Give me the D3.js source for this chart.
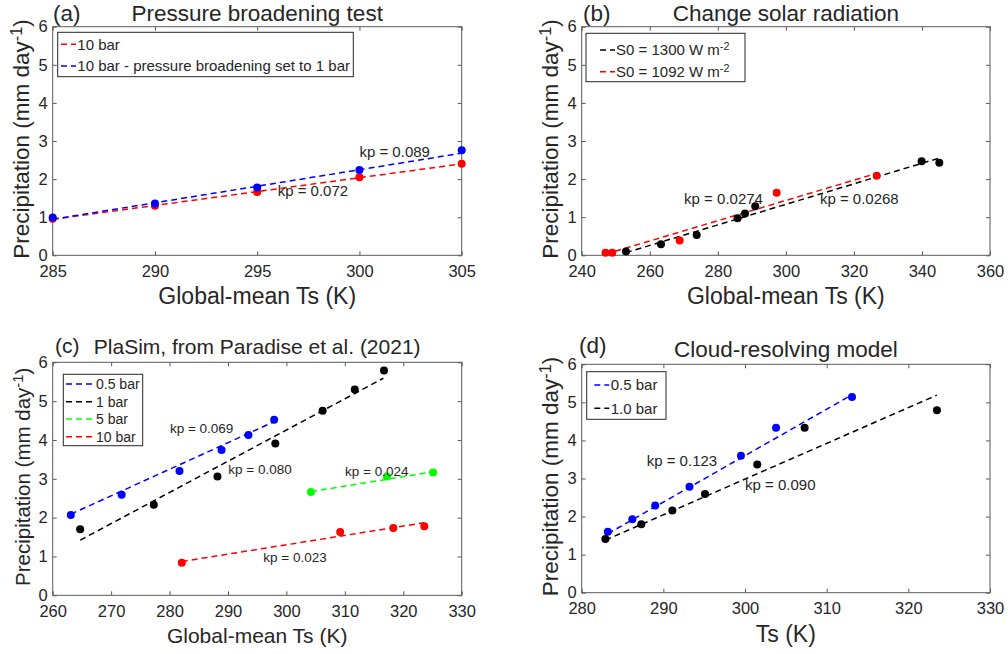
<!DOCTYPE html>
<html>
<head>
<meta charset="utf-8">
<script src="https://cdn.jsdelivr.net/npm/d3@7"></script>
<style>
  body { margin: 0; background: #fff; }
  text { font-family: 'Liberation Sans', Arial, Helvetica, sans-serif; fill: #262626; }
</style>
</head>
<body>
<script>
// ---- panel (a) pressure broadening test
const a_temps = [285, 290, 295, 300, 305];
const a_red = [0.96, 1.30, 1.66, 2.05, 2.40];
const a_blue = [0.99, 1.36, 1.78, 2.24, 2.76];
const a_fit_t = [285, 305];
const a_red_fit = [0.945, 2.40];
const a_blue_fit = [0.945, 2.68];

// ---- panel (b) change solar radiation
const b_black_t = [253.0, 263.3, 273.8, 285.8, 288.0, 291.0, 339.9, 345.1];
const b_black_p = [0.10, 0.29, 0.53, 0.97, 1.10, 1.29, 2.47, 2.43];
const b_red_t = [247.0, 249.0, 268.8, 297.3, 326.7];
const b_red_p = [0.07, 0.07, 0.39, 1.64, 2.09];
const b_black_fit_t = [253, 345];
const b_black_fit_p = [0.07, 2.55];
const b_red_fit_t = [247, 326.7];
const b_red_fit_p = [0.03, 2.15];

// ---- panel (c) PlaSim
const c_blue_t = [263.1, 271.8, 281.7, 288.9, 293.5, 297.9];
const c_blue_p = [2.07, 2.59, 3.20, 3.74, 4.13, 4.52];
const c_black_t = [264.7, 277.3, 288.2, 298.1, 306.2, 311.7, 316.7];
const c_black_p = [1.70, 2.33, 3.06, 3.91, 4.75, 5.30, 5.79];
const c_green_t = [304.2, 317.2, 325.1];
const c_green_p = [2.66, 3.06, 3.16];
const c_red_t = [282.1, 309.2, 318.3, 323.6];
const c_red_p = [0.84, 1.63, 1.73, 1.78];
const c_blue_fit_t = [263.1, 297.9];
const c_blue_fit_p = [2.09, 4.47];
const c_black_fit_t = [264.7, 316.6];
const c_black_fit_p = [1.42, 5.59];
const c_green_fit_t = [304.2, 325.1];
const c_green_fit_p = [2.67, 3.18];
const c_red_fit_t = [282.1, 323.6];
const c_red_fit_p = [0.87, 1.87];

// ---- panel (d) cloud-resolving model
const d_blue_t = [283.2, 286.2, 289.0, 293.2, 299.5, 303.8, 313.1];
const d_blue_p = [1.60, 1.93, 2.29, 2.78, 3.60, 4.33, 5.14];
const d_black_t = [282.9, 287.3, 291.1, 295.1, 301.5, 307.3, 323.5];
const d_black_p = [1.41, 1.80, 2.16, 2.59, 3.37, 4.33, 4.79];
const d_blue_fit_t = [283.2, 313.1];
const d_blue_fit_p = [1.55, 5.20];
const d_black_fit_t = [282.9, 323.5];
const d_black_fit_p = [1.38, 5.19];

const y_ticks = [0, 1, 2, 3, 4, 5, 6];

var width = 1008;
var height = 654;

var svg = d3.select('body').append('svg')
      .attr('width', width)
      .attr('height', height);

function zip(t, p) {
  return t.map(function (d, i) { return [d, p[i]]; });
}

const panels = [
  {
    tag: '(a)', title: 'Pressure broadening test', xlabel: 'Global-mean Ts (K)',
    box: [52.7, 26.7, 461.7, 255.3], xdom: [285, 305], xticks: [285, 290, 295, 300, 305],
    titleY: 20.5, tagX: 53, tagY: 20.5, titleSize: 22.5, labelSize: 23, ylabelSize: 22.5, xlabelY: 304, ylabelX: 29,
    fits: [
      {t: a_fit_t, p: a_red_fit, c: '#ff0000'},
      {t: a_fit_t, p: a_blue_fit, c: '#0000ff'}
    ],
    dots: [
      {t: a_temps, p: a_red, c: '#ff0000'},
      {t: a_temps, p: a_blue, c: '#0000ff'}
    ],
    notes: [
      {text: 'kp = 0.089', t: 300.0, p: 2.57, size: 15},
      {text: 'kp = 0.072', t: 296.0, p: 1.56, size: 15}
    ],
    legend: {box: [57.7, 32.3, 353.3, 76.7], rows: [44.3, 66], line: [61, 76], textX: 77.3, size: 15,
      items: [
        {label: '10 bar', c: '#ff0000'},
        {label: '10 bar - pressure broadening set to 1 bar', c: '#0000ff'}
      ]}
  },
  {
    tag: '(b)', title: 'Change solar radiation', xlabel: 'Global-mean Ts (K)',
    box: [581.7, 26.7, 990, 255.3], xdom: [240, 360], xticks: [240, 260, 280, 300, 320, 340, 360],
    titleY: 20.5, tagX: 583, tagY: 20.5, titleSize: 22.5, labelSize: 23, ylabelSize: 22.5, xlabelY: 304, ylabelX: 558,
    fits: [
      {t: b_black_fit_t, p: b_black_fit_p, c: '#000000'},
      {t: b_red_fit_t, p: b_red_fit_p, c: '#ff0000'}
    ],
    dots: [
      {t: b_black_t, p: b_black_p, c: '#000000'},
      {t: b_red_t, p: b_red_p, c: '#ff0000'}
    ],
    notes: [
      {text: 'kp = 0.0274', t: 270.1, p: 1.34, size: 15},
      {text: 'kp = 0.0268', t: 310.0, p: 1.34, size: 15}
    ],
    legend: {box: [586, 33.3, 745, 81.7], rows: [50, 71.7], line: [600, 615], textX: 616, size: 15,
      items: [
        {label: 'S0 = 1300 W m', sup: '-2', c: '#000000'},
        {label: 'S0 = 1092 W m', sup: '-2', c: '#ff0000'}
      ]}
  },
  {
    tag: '(c)', title: 'PlaSim, from Paradise et al. (2021)', xlabel: 'Global-mean Ts (K)',
    box: [52.7, 362.3, 461.7, 595.3], xdom: [260, 330], xticks: [260, 270, 280, 290, 300, 310, 320, 330],
    titleY: 354, tagX: 55, tagY: 353, titleSize: 21, labelSize: 21, ylabelSize: 20.5, xlabelY: 643, ylabelX: 30,
    fits: [
      {t: c_blue_fit_t, p: c_blue_fit_p, c: '#0000ff'},
      {t: c_black_fit_t, p: c_black_fit_p, c: '#000000'},
      {t: c_green_fit_t, p: c_green_fit_p, c: '#00ff00'},
      {t: c_red_fit_t, p: c_red_fit_p, c: '#ff0000'}
    ],
    dots: [
      {t: c_blue_t, p: c_blue_p, c: '#0000ff'},
      {t: c_black_t, p: c_black_p, c: '#000000'},
      {t: c_green_t, p: c_green_p, c: '#00ff00'},
      {t: c_red_t, p: c_red_p, c: '#ff0000'}
    ],
    notes: [
      {text: 'kp = 0.069', t: 280.07, p: 4.19, size: 13.5},
      {text: 'kp = 0.080', t: 290.05, p: 3.12, size: 13.5},
      {text: 'kp = 0.024', t: 310.03, p: 3.08, size: 13.5},
      {text: 'kp = 0.023', t: 296.05, p: 0.86, size: 13.5}
    ],
    legend: {box: [63.3, 374.3, 142.7, 445.7], rows: [384, 401.7, 419, 436.7], line: [66, 95], textX: 96, size: 14,
      items: [
        {label: '0.5 bar', c: '#0000ff'},
        {label: '1 bar', c: '#000000'},
        {label: '5 bar', c: '#00ff00'},
        {label: '10 bar', c: '#ff0000'}
      ]}
  },
  {
    tag: '(d)', title: 'Cloud-resolving model', xlabel: 'Ts (K)',
    box: [581.7, 364.3, 990, 592.7], xdom: [280, 330], xticks: [280, 290, 300, 310, 320, 330],
    titleY: 357, tagX: 579, tagY: 353, titleSize: 22.5, labelSize: 23, ylabelSize: 22.5, xlabelY: 641.5, ylabelX: 558,
    fits: [
      {t: d_blue_fit_t, p: d_blue_fit_p, c: '#0000ff'},
      {t: d_black_fit_t, p: d_black_fit_p, c: '#000000'}
    ],
    dots: [
      {t: d_blue_t, p: d_blue_p, c: '#0000ff'},
      {t: d_black_t, p: d_black_p, c: '#000000'}
    ],
    notes: [
      {text: 'kp = 0.123', t: 287.96, p: 3.34, size: 15},
      {text: 'kp = 0.090', t: 300.0, p: 2.70, size: 15}
    ],
    legend: {box: [586.7, 371.7, 666, 419.3], rows: [385, 408.3], line: [594.3, 609.3], textX: 610.7, size: 15,
      items: [
        {label: '0.5 bar', c: '#0000ff'},
        {label: '1.0 bar', c: '#000000'}
      ]}
  }
];

function draw_panel(cfg) {
  var x0 = cfg.box[0], y0 = cfg.box[1], x1 = cfg.box[2], y1 = cfg.box[3];
  var x = d3.scaleLinear().domain(cfg.xdom).range([x0, x1]);
  var y = d3.scaleLinear().domain([0, 6]).range([y1, y0]);
  var g = svg.append('g');
  var fmt = d3.format('d');

  // axes, ticks point inward like matlab
  var axes = [
    {ax: d3.axisBottom(x).tickValues(cfg.xticks).tickFormat(fmt), tr: 'translate(0,' + y1 + ')'},
    {ax: d3.axisTop(x).tickValues(cfg.xticks).tickFormat(''), tr: 'translate(0,' + y0 + ')'},
    {ax: d3.axisLeft(y).tickValues(y_ticks).tickFormat(fmt), tr: 'translate(' + x0 + ',0)'},
    {ax: d3.axisRight(y).tickValues(y_ticks).tickFormat(''), tr: 'translate(' + x1 + ',0)'}
  ];
  axes.forEach(function (a, i) {
    a.ax.tickSizeInner(-4).tickSizeOuter(0).tickPadding(i == 0 ? 10 : 5);
    var ag = g.append('g').attr('transform', a.tr).call(a.ax);
    ag.select('.domain').remove();
    ag.selectAll('line').attr('stroke', '#5a5a5a');
    ag.selectAll('text')
      .attr('font-size', 16.5)
      .attr('font-family', "'Liberation Sans', Arial, sans-serif")
      .attr('fill', '#262626');
  });

  g.append('rect')
    .attr('x', x0).attr('y', y0)
    .attr('width', x1 - x0).attr('height', y1 - y0)
    .attr('fill', 'none')
    .attr('stroke', '#5a5a5a')
    .attr('stroke-width', 1);

  // fitted lines
  var line = d3.line()
    .x(function (d) { return x(d[0]); })
    .y(function (d) { return y(d[1]); });
  cfg.fits.forEach(function (f) {
    g.append('path')
      .datum(zip(f.t, f.p))
      .attr('d', line)
      .attr('fill', 'none')
      .attr('stroke', f.c)
      .attr('stroke-width', 1.5)
      .attr('stroke-dasharray', '6,4');
  });

  // points
  cfg.dots.forEach(function (s) {
    g.append('g').selectAll('circle')
      .data(zip(s.t, s.p))
      .enter()
      .append('circle')
      .attr('cx', function (d) { return x(d[0]); })
      .attr('cy', function (d) { return y(d[1]); })
      .attr('r', 4)
      .attr('fill', s.c);
  });

  // kp labels
  cfg.notes.forEach(function (n) {
    g.append('text')
      .attr('x', x(n.t))
      .attr('y', y(n.p))
      .attr('font-size', n.size)
      .text(n.text);
  });

  // title + panel tag
  g.append('text')
    .attr('x', (x0 + x1) / 2).attr('y', cfg.titleY)
    .attr('text-anchor', 'middle')
    .attr('font-size', cfg.titleSize)
    .text(cfg.title);
  g.append('text')
    .attr('x', cfg.tagX).attr('y', cfg.tagY)
    .attr('font-size', cfg.titleSize)
    .text(cfg.tag);

  // axis labels
  g.append('text')
    .attr('x', (x0 + x1) / 2).attr('y', cfg.xlabelY)
    .attr('text-anchor', 'middle')
    .attr('font-size', cfg.labelSize)
    .text(cfg.xlabel);

  var yl = g.append('text')
    .attr('transform', 'translate(' + cfg.ylabelX + ',' + ((y0 + y1) / 2 - 2) + ') rotate(-90)')
    .attr('text-anchor', 'middle')
    .attr('font-size', cfg.ylabelSize);
  yl.append('tspan').text('Precipitation (mm day');
  yl.append('tspan').attr('dy', '-0.45em').attr('font-size', cfg.ylabelSize * 0.72).text('-1');
  yl.append('tspan').attr('dy', '0.32em').text(')');

  // legend
  var L = cfg.legend;
  g.append('rect')
    .attr('x', L.box[0]).attr('y', L.box[1])
    .attr('width', L.box[2] - L.box[0]).attr('height', L.box[3] - L.box[1])
    .attr('fill', '#fff')
    .attr('stroke', '#262626')
    .attr('stroke-width', 1);
  L.items.forEach(function (it, i) {
    var ry = L.rows[i];
    g.append('line')
      .attr('x1', L.line[0]).attr('x2', L.line[1])
      .attr('y1', ry).attr('y2', ry)
      .attr('stroke', it.c)
      .attr('stroke-width', 1.5)
      .attr('stroke-dasharray', '6,4');
    var t = g.append('text')
      .attr('x', L.textX).attr('y', ry)
      .attr('dy', '0.35em')
      .attr('font-size', L.size);
    t.append('tspan').text(it.label);
    if (it.sup) {
      t.append('tspan').attr('dy', '-0.45em').attr('font-size', L.size * 0.72).text(it.sup);
    }
  });
}

panels.forEach(draw_panel);
</script>
</body>
</html>
